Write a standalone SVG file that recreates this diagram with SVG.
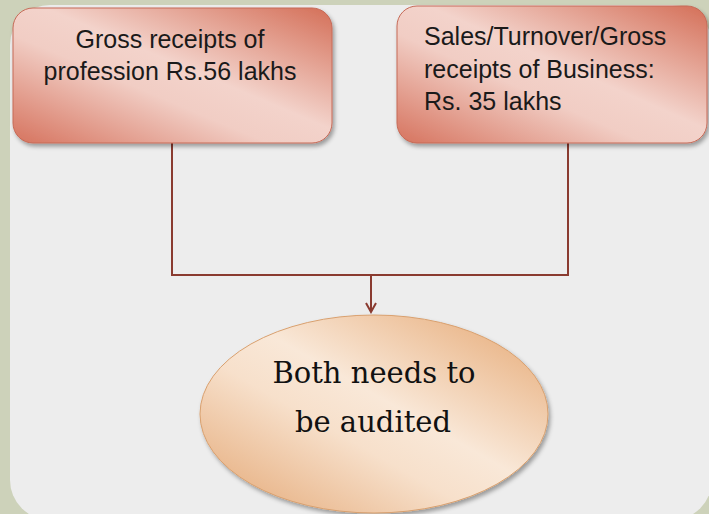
<svg xmlns="http://www.w3.org/2000/svg" width="709" height="514" viewBox="0 0 709 514">
<defs>
<linearGradient id="gBox" x1="1" y1="0" x2="0" y2="1">
<stop offset="0" stop-color="#D46F58"/>
<stop offset="0.45" stop-color="#F3D3CB"/>
<stop offset="0.6" stop-color="#F1CDC4"/>
<stop offset="1" stop-color="#D6735E"/>
</linearGradient>
<linearGradient id="gEll" x1="1" y1="0" x2="0" y2="1">
<stop offset="0" stop-color="#E5A670"/>
<stop offset="0.45" stop-color="#F9E8D8"/>
<stop offset="0.6" stop-color="#F7E0CB"/>
<stop offset="1" stop-color="#E3A571"/>
</linearGradient>
<filter id="sh" x="-10%" y="-10%" width="130%" height="130%">
<feDropShadow dx="2" dy="3" stdDeviation="2" flood-color="#000" flood-opacity="0.35"/>
</filter>
<marker id="arr" viewBox="0 0 12 12" refX="10" refY="6" markerWidth="12" markerHeight="12" markerUnits="userSpaceOnUse" orient="auto">
<path d="M1,1 L10,6 L1,11" fill="none" stroke="#8A3B30" stroke-width="2"/>
</marker>
</defs>
<style>
.box{fill:url(#gBox);stroke:#C66A57;stroke-width:1;filter:url(#sh)}
.ell{fill:url(#gEll);stroke:#D9A06E;stroke-width:1;filter:url(#sh)}
.t{font-family:"Liberation Sans",Arial,sans-serif;font-size:25px;fill:#1a1a1a}
.s{font-family:"DejaVu Serif",serif;font-size:29px;fill:#111}
.c{fill:none;stroke:#8A3B30;stroke-width:2}
</style>
<rect x="0" y="0" width="709" height="514" fill="#CDD2BA"/>
<rect x="10" y="5" width="702" height="515" rx="40" fill="#EDEDED"/>
<g id="connectors">
<polyline class="c" points="172,143 172,275 568,275 568,143"/>
<line class="c" x1="371" y1="275" x2="371" y2="312" marker-end="url(#arr)"/>
</g>
<g id="node-profession">
<rect class="box" x="13" y="8" width="319" height="135" rx="20"/>
<text class="t" text-anchor="middle"><tspan x="170" y="48">Gross receipts of</tspan><tspan x="170" y="80">profession Rs.56 lakhs</tspan></text>
</g>
<g id="node-business">
<rect class="box" x="397" y="6" width="310" height="137" rx="20"/>
<text class="t"><tspan x="424" y="45">Sales/Turnover/Gross</tspan><tspan x="424" y="78">receipts of Business:</tspan><tspan x="424" y="110">Rs. 35 lakhs</tspan></text>
</g>
<g id="node-audit">
<ellipse class="ell" cx="374" cy="414" rx="174" ry="99"/>
<text class="s" text-anchor="middle"><tspan x="374" y="383">Both needs to</tspan><tspan x="373" y="432">be audited</tspan></text>
</g>
</svg>
